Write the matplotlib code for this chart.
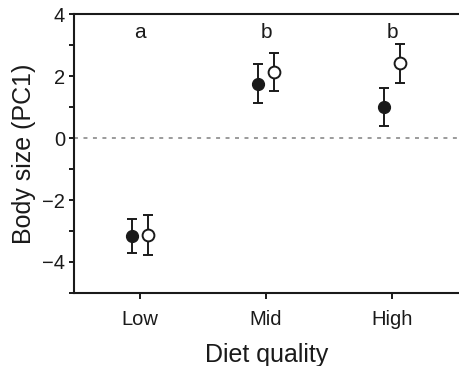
import numpy as np
import matplotlib
matplotlib.use("Agg")
import matplotlib.pyplot as plt
from matplotlib.ticker import MultipleLocator

plt.rcParams['font.family'] = ['Liberation Sans', 'DejaVu Sans']

# data
diets = ['Low', 'Mid', 'High']
filled_mean = [-3.15, 1.75, 1.0]
filled_lo = [-3.7, 1.14, 0.39]
filled_hi = [-2.6, 2.38, 1.6]
open_mean = [-3.12, 2.13, 2.42]
open_lo = [-3.78, 1.52, 1.78]
open_hi = [-2.47, 2.74, 3.05]
letters = ['a', 'b', 'b']

fig = plt.figure(figsize=(4.6, 3.66), dpi=100)
ax = fig.add_axes([0.161, 0.1995, 0.839, 0.762])

x = np.arange(1, len(diets) + 1)
off = 0.065
dark = '#1a1a1a'

fm = np.array(filled_mean)
om = np.array(open_mean)
ferr = [fm - np.array(filled_lo), np.array(filled_hi) - fm]
oerr = [om - np.array(open_lo), np.array(open_hi) - om]

ax.axhline(0, color='#808080', lw=1.1, ls=(0, (2.6, 3.6)), zorder=1)

ax.errorbar(x - off, fm, yerr=ferr, fmt='o', ms=8.5, mfc=dark, mec=dark,
            ecolor=dark, elinewidth=1.4, capsize=3.4, capthick=1.4, zorder=3)
ax.errorbar(x + off, om, yerr=oerr, fmt='o', ms=8.5, mfc='white', mec=dark,
            mew=1.4, ecolor=dark, elinewidth=1.4, capsize=3.4, capthick=1.4, zorder=3)

for xi, lab in zip(x, letters):
    ax.text(xi, 3.4, lab, ha='center', va='center', fontsize=15, color=dark)

ax.set_xlim(0.476, 3.54)
ax.set_ylim(-5, 4)
ax.set_xticks(x)
ax.set_xticklabels(diets)
ax.yaxis.set_minor_locator(MultipleLocator(1))
ax.set_yticks([-4, -2, 0, 2, 4])
ax.set_yticklabels(['\u22124', '\u22122', '0', '2', '4'])

for side in ['left', 'top', 'bottom']:
    ax.spines[side].set_linewidth(1.5)
    ax.spines[side].set_color(dark)
ax.spines['right'].set_visible(False)

ax.tick_params(axis='both', which='both', direction='out', width=1.4,
               color=dark, labelsize=14.5, labelcolor=dark)
ax.tick_params(axis='y', which='major', length=3.5, pad=3)
ax.tick_params(axis='y', which='minor', length=3.5)
ax.tick_params(axis='x', length=4, pad=8)

ax.set_xlabel('Diet quality', fontsize=18, color=dark, labelpad=10)
ax.set_ylabel('Body size (PC1)', fontsize=18, color=dark, labelpad=4)

fig.savefig('out.png', dpi=100)
